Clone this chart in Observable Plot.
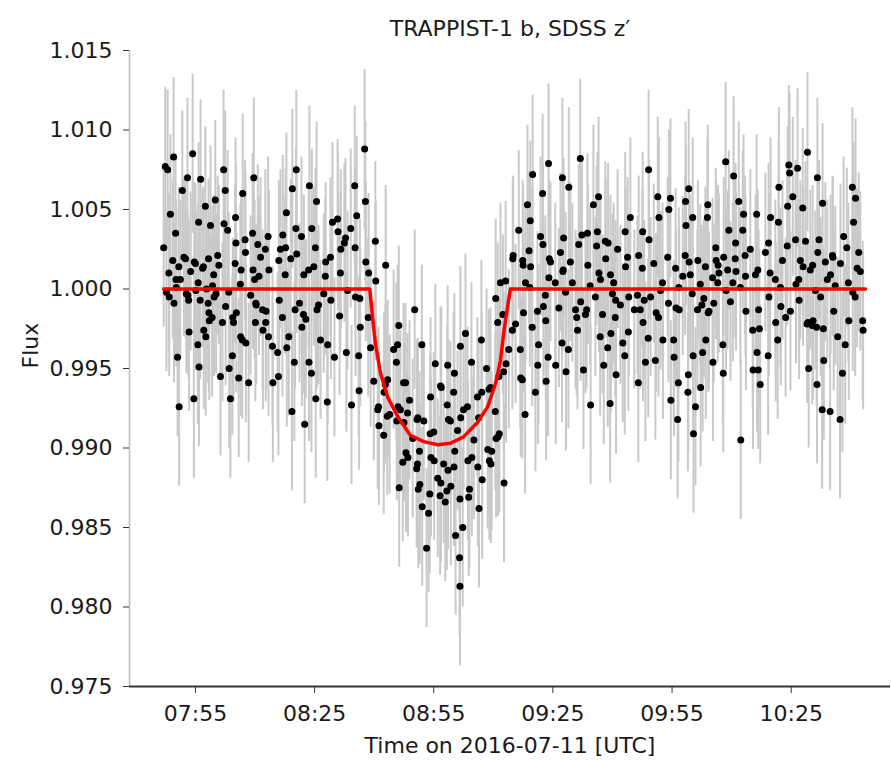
<!DOCTYPE html>
<html><head><meta charset="utf-8">
<script src="https://cdn.jsdelivr.net/npm/d3@7"></script>
<script src="https://cdn.jsdelivr.net/npm/@observablehq/plot@0.6"></script>
<style>body{margin:0;background:#fff}</style>
</head><body><div id="chart"></div>
<script>
// [time in minutes after 07:00 UTC, relative flux]
const obsEarly = [[47.0,1.0026],[47.4,1.0077],[47.7,0.9998],[48.0,1.0075],[48.3,1.0010],[48.4,0.9995],[48.7,1.0047],[49.3,1.0018],[49.5,1.0083],[49.6,0.9991],[50.0,1.0035],[50.2,1.0001],[50.5,0.9957],[50.8,1.0014],[50.9,0.9926],[51.2,1.0006],[51.7,1.0062],[52.5,1.0019],[52.7,0.9997],[53.0,1.0070],[53.3,0.9993],[53.4,0.9973],[53.8,1.0011],[54.3,1.0085],[54.6,0.9931],[55.0,1.0016],[55.1,0.9999],[55.6,0.9965],[55.8,1.0042],[55.7,1.0004],[55.9,0.9951],[56.3,1.0069],[56.8,1.0013],[57.1,0.9974],[57.5,1.0052],[57.6,0.9970],[57.8,1.0000],[58.3,1.0019],[58.4,0.9985],[58.2,0.9991],[58.5,0.9980],[58.8,1.0040],[59.3,1.0002],[59.6,1.0009],[59.7,0.9995],[60.0,1.0056],[60.9,1.0015],[61.3,0.9945],[62.1,1.0075],[62.2,1.0041],[62.5,1.0062],[62.6,0.9989],[63.4,0.9998],[63.5,0.9950],[63.8,0.9931],[64.4,0.9982],[64.3,0.9958],[64.6,0.9979],[65.1,1.0045],[65.2,1.0029],[65.0,1.0016],[65.9,0.9944],[66.3,1.0003],[66.4,0.9970],[66.9,1.0060],[66.8,0.9968],[67.6,1.0023],[67.7,0.9966],[68.4,0.9941],[68.9,0.9996],[69.4,1.0035],[69.5,1.0012],[69.7,1.0070],[69.9,1.0006],[70.1,0.9979],[70.2,0.9991],[71.0,1.0008],[71.4,1.0020],[71.9,0.9987],[72.0,0.9974],[72.6,1.0025],[72.7,0.9979],[73.5,1.0012],[73.4,0.9970],[74.4,0.9964],[74.5,0.9941],
[75.7,0.9960],[76.0,1.0018],[75.9,0.9945],[77.0,1.0034],[76.9,0.9982],[77.9,1.0048],[77.7,1.0026],[78.0,0.9963],[78.5,0.9970],[79.4,1.0063],[79.3,0.9923],[79.9,0.9954],[80.4,1.0075],[80.3,1.0038],[80.5,1.0022],[81.2,0.9991],[81.7,1.0033],[81.8,0.9976],[82.3,1.0009],[82.2,0.9984],[82.5,0.9915],[83.7,1.0065],[83.6,0.9954],[84.3,1.0038],[84.2,0.9947],[84.8,1.0014],[85.5,1.0055],[85.2,1.0026],[85.3,0.9931],[85.6,0.9987],[86.5,0.9968],[87.3,0.9997],[87.7,1.0008],[88.3,0.9965],[88.2,0.9929],[89.0,1.0020],[90.0,0.9957],[90.8,1.0044],[90.9,1.0036],[91.3,0.9983],[91.5,1.0010],[92.5,1.0029],[93.0,0.9960],[93.3,0.9999],[94.3,0.9927],[95.1,1.0065],[95.2,1.0026],[95.3,0.9995],[95.6,1.0046],[96.1,0.9958],[96.2,0.9936],[96.4,0.9994],[96.5,0.9976],[97.6,1.0088],[97.8,1.0055],[97.9,1.0017],[98.6,1.0010],[98.5,0.9982],
[52.1,1.0020],[54.7,1.0017],[57.0,1.0014],[60.6,1.0021],[53.1,0.9996],[56.2,0.9993],[60.2,0.9997],[59.2,0.9982],[61.8,0.9979],[65.3,0.9985],[70.3,0.9990],[72.8,0.9986],[76.1,0.9993],[80.1,0.9987],[82.8,0.9981],[86.0,0.9990],[89.1,0.9993],[63.1,1.0037],[67.5,1.0031],[70.7,1.0028],[73.3,1.0033],[76.4,1.0025],[79.0,1.0019],[89.5,1.0042],[92.8,1.0032],[94.1,1.0038],[91.6,1.0025],[87.8,1.0017],[83.5,1.0012],[77.6,1.0009],[66.5,1.0012],[50.1,1.0006]];

const obsTransit = [[99.1,0.9963],[100.3,1.0030],[99.9,0.9942],[100.4,1.0005],[100.9,0.9924],[101.1,0.9926],[101.2,0.9914],[102.9,1.0015],[102.4,0.9908],[102.5,0.9935],[102.8,0.9940],[103.4,0.9943],[103.3,0.9920],[103.9,0.9921],[104.9,0.9962],[105.6,0.9954],[105.7,0.9917],
[105.9,0.9965],[106.0,0.9926],[106.2,0.9977],[106.3,0.9875],[106.6,0.9924],[107.2,0.9891],[107.5,0.9916],[107.9,0.9941],[108.0,0.9897],[108.4,0.9922],[108.5,0.9894],[108.9,0.9930],[109.7,0.9906],[110.2,0.9987],[110.7,0.9887],[111.0,0.9919],[110.9,0.9890],[111.1,0.9874],[111.4,0.9898],[111.5,0.9877],[112.0,0.9965],[112.1,0.9863],[112.5,0.9917],[113.2,0.9837],[113.7,0.9859],[114.2,0.9932],[114.1,0.9909],[114.3,0.9894],[114.0,0.9871],[115.0,0.9910],[115.1,0.9892],[115.4,0.9953],[116.0,0.9881],[116.7,0.9939],[116.8,0.9878],[116.6,0.9870],[117.5,0.9890],[117.9,0.9866],[118.5,0.9952],[118.4,0.9927],[118.6,0.9886],[118.3,0.9873],[119.2,0.9917],[119.3,0.9876],[120.0,0.9935],[120.1,0.9888],[120.2,0.9947],[120.3,0.9898],[120.5,0.9845],[121.0,0.9911],[121.5,0.9831],[121.6,0.9813],[121.7,0.9964],[121.8,0.9919],[121.6,0.9868],[122.3,0.9850],[123.0,0.9972],[123.5,0.9926],[122.5,0.9924],[123.6,0.9892],[124.0,0.9874],[123.8,0.9869],[124.5,0.9954],[124.6,0.9894],[125.1,0.9905],[126.0,0.9932],[126.1,0.9888],[126.3,0.9919],[126.4,0.9862],[127.0,0.9968],[127.1,0.9935],[127.2,0.9880],[128.3,0.9950],[128.6,0.9899],[128.9,0.9937],[129.0,0.9892],[129.3,0.9938],[129.4,0.9890],[129.6,0.9898],[130.6,0.9994],[130.5,0.9923],[130.7,0.9906],[131.1,0.9979],[131.2,0.9907],[131.4,0.9945],[131.5,0.9909],[131.8,1.0004],[132.4,0.9984],[132.6,0.9948],[132.7,0.9878],[133.1,1.0005],[133.2,0.9953],[133.9,0.9962],[134.9,1.0019],[134.8,0.9974],[135.6,0.9978],
[107.4,0.9941],[110.8,0.9918],[116.9,0.9938],[118.7,0.9918]];

const obsLate = [[136.4,1.0037],[136.8,0.9962],[136.9,0.9944],[137.4,1.0018],[137.3,0.9943],[137.6,0.9985],[138.1,1.0004],[138.0,0.9921],[138.6,1.0053],[139.3,1.0043],[139.4,1.0014],[139.2,1.0001],[139.9,1.0072],[139.8,0.9976],[140.6,0.9935],[141.1,0.9986],[141.2,0.9952],[141.4,0.9965],[141.9,1.0033],[142.4,1.0060],[142.5,1.0028],[143.1,0.9996],[143.2,0.9980],[143.3,0.9942],[143.9,1.0079],[144.0,1.0007],[143.8,0.9957],[144.4,1.0017],[145.6,1.0004],[145.7,0.9952],[146.5,0.9988],[146.9,1.0023],[147.4,1.0070],[147.5,1.0011],[147.3,0.9966],[147.7,1.0032],[148.2,0.9998],[148.3,0.9948],[149.0,1.0064],[148.9,0.9962],[149.4,1.0017],[149.9,1.0004],[150.7,0.9987],[151.2,0.9974],[151.5,1.0028],[151.9,1.0082],[152.0,0.9992],[152.7,0.9949],[153.2,0.9984],[153.7,1.0035],[153.8,1.0015],[154.4,1.0002],[154.5,0.9927],[155.2,1.0053],[155.7,0.9995],[156.2,1.0036],[156.5,1.0058],[156.6,1.0010],[157.0,1.0006],[156.9,0.9970],[157.5,0.9984],[157.8,0.9952],[158.2,1.0030],[158.3,1.0019],[158.8,0.9963],[159.5,1.0009],[159.6,0.9972],[159.4,0.9928],[160.3,1.0004],[160.8,0.9993],[160.7,0.9982],[160.9,0.9946],[161.3,1.0025],[162.0,0.9990],[162.6,0.9966],[163.2,1.0036],[163.3,1.0014],[163.1,0.9958],[164.1,0.9995],[164.0,0.9973],[164.5,1.0045],
[166.3,0.9996],[166.6,1.0021],[166.5,0.9941],[167.0,0.9987],[167.6,1.0036],[167.5,1.0013],[167.7,0.9979],[168.3,0.9954],[169.1,1.0075],[169.2,1.0031],[169.0,0.9969],[169.6,0.9995],[170.4,1.0016],[170.8,0.9955],[171.4,1.0058],[171.7,1.0045],[171.6,0.9982],[172.1,0.9999],[172.6,1.0004],[172.7,0.9968],[173.9,1.0020],[174.2,1.0050],[174.1,0.9991],[174.6,1.0057],[174.7,0.9930],[175.4,0.9968],[175.5,0.9957],[175.9,1.0013],[176.4,0.9918],[176.7,1.0001],[176.8,0.9987],[176.6,0.9941],[177.7,1.0008],[178.4,1.0055],[178.5,1.0040],[178.3,1.0021],[179.0,0.9935],[179.2,1.0063],[179.3,1.0017],[179.1,0.9946],[179.6,1.0009],[180.2,1.0045],[180.1,0.9997],[180.3,0.9958],[180.4,0.9909],[180.9,0.9926],[181.4,0.9987],[182.1,1.0003],[182.2,0.9938],[182.7,0.9960],[183.0,0.9994],[183.4,1.0014],[183.5,0.9968],[184.0,1.0053],[183.9,1.0045],[184.1,0.9985],[185.2,1.0007],[185.3,0.9954],[185.5,0.9991],[186.0,1.0026],[186.5,1.0004],[186.8,1.0010],[187.8,0.9965],[187.9,0.9947],[188.0,1.0020],[188.5,1.0080],[188.6,0.9999],[189.3,1.0037],[189.7,0.9992],[190.3,1.0004],[190.5,1.0071],[191.0,1.0029],[191.1,1.0011],[191.8,1.0055],[192.2,1.0001],[192.3,0.9905],[192.8,1.0037],[193.0,1.0047],[193.5,1.0008],[193.6,0.9986],[194.7,1.0025],[195.3,0.9974],[195.4,0.9949],
[196.3,1.0047],[196.6,1.0012],[196.8,0.9987],[197.0,0.9975],[196.4,0.9960],[196.7,0.9949],[197.2,0.9940],[198.5,1.0023],[199.3,1.0029],[199.4,0.9995],[199.2,0.9958],[199.8,1.0045],[199.7,1.0010],[201.0,1.0006],[201.1,0.9979],[201.6,0.9968],[201.9,1.0064],[201.8,1.0042],[202.3,1.0001],[202.4,0.9989],[202.8,1.0018],[203.6,0.9982],[204.1,1.0052],[204.4,1.0078],[204.6,1.0073],[204.8,0.9986],[205.4,1.0058],[206.1,1.0031],[206.2,1.0003],[206.6,1.0076],[206.9,1.0006],[207.0,0.9993],[207.3,1.0018],[207.9,1.0051],[208.6,1.0030],[209.1,1.0086],[209.2,0.9979],[209.4,0.9950],[209.8,1.0012],[210.4,1.0015],[210.3,0.9977],[211.1,0.9999],[211.6,1.0070],[211.7,1.0023],[211.5,0.9940],[212.4,0.9995],[212.9,1.0054],[212.8,0.9924],[213.1,0.9975],[213.2,0.9955],[213.6,1.0017],[214.1,1.0006],[214.9,1.0009],[214.8,0.9923],[215.4,1.0021],[215.7,0.9986],[216.1,1.0002],[216.7,0.9970],[217.4,1.0016],[217.3,0.9918],[217.9,0.9947],[218.2,1.0033],[218.6,0.9965],[219.4,1.0004],[219.5,0.9980],[220.4,1.0064],[220.5,0.9998],[220.7,1.0042],[221.2,1.0057],[221.1,0.9995],[222.0,1.0023],[222.4,1.0011],[223.0,0.9980],[223.1,0.9974],
[135.0,1.0021],[137.5,1.0015],[139.0,1.0024],[144.1,1.0019],[147.6,1.0012],[152.3,1.0034],[156.0,1.0027],[158.9,1.0029],[163.8,1.0020],[160.0,0.9997],[165.5,0.9987],[142.6,0.9989],[151.0,0.9982],[153.5,0.9987],[186.1,1.0018],[189.0,1.0012],[193.4,1.0021],[196.0,1.0009],[204.0,1.0027],[208.0,1.0014],[212.0,1.0031],[215.5,1.0020],[219.0,1.0026],[221.6,1.0013],[209.0,0.9978],[210.5,0.9980],[211.4,0.9976],[182.5,0.9990],[184.3,0.9986],[181.5,1.0018],[186.6,1.0015],[190.9,1.0019],[168.0,0.9993],[171.0,0.9985],[176.0,0.9988]];

const fluxErr = 0.0050;

const modelCurve = [[47.0,1.0000],[98.9,1.0000],[99.6,0.9982],[100.3,0.9966],[101.6,0.9947],[103.4,0.9932],[105.9,0.9920],[109.1,0.9908],[112.5,0.9904],[116.0,0.9902],[119.2,0.9903],[122.5,0.9907],[126.0,0.9916],[128.6,0.9926],[130.6,0.9941],[131.8,0.9955],[132.6,0.9972],[133.6,0.9989],[134.3,1.0000],[223.7,1.0000]];

const xDomain = [38.4, 230.0];
const yTicks = [0.975, 0.980, 0.985, 0.990, 0.995, 1.000, 1.005, 1.010, 1.015];
const xTicks = [55, 85, 115, 145, 175, 205];
const xTickLabels = ["07:55", "08:25", "08:55", "09:25", "09:55", "10:25"];
const titleText = "TRAPPIST-1 b, SDSS z′";
const xLabelText = "Time on 2016-07-11 [UTC]";
const yLabelText = "Flux";

const obs = [...obsEarly, ...obsTransit, ...obsLate].map(([t, f]) => ({t, f, lo: f - fluxErr, hi: f + fluxErr}));
const model = modelCurve.map(([t, f]) => ({t, f}));
const font = "DejaVu Sans, sans-serif";
const fs = 22;

const chart = Plot.plot({
  width: 892,
  height: 760,
  marginLeft: 129,
  marginRight: 2,
  marginTop: 50,
  marginBottom: 74,
  style: {fontFamily: font, fontSize: fs + "px", background: "#fff", color: "#1a1a1a"},
  x: {domain: xDomain},
  y: {domain: [yTicks[0], yTicks[yTicks.length - 1]]},
  marks: [
    Plot.ruleX(obs, {x: "t", y1: "lo", y2: "hi", stroke: "#c9c9c9", strokeWidth: 2}),
    Plot.dot(obs, {x: "t", y: "f", r: 3.5, fill: "#000", stroke: "none"}),
    Plot.line(model, {x: "t", y: "f", stroke: "#ff0000", strokeWidth: 3.5}),
    Plot.ruleX([xDomain[0]], {y1: yTicks[0], y2: yTicks[yTicks.length - 1], stroke: "#bdbdbd", strokeWidth: 1.6}),
    Plot.ruleY([yTicks[0]], {stroke: "#333", strokeWidth: 1.8}),
    Plot.axisY({ticks: yTicks, tickFormat: d3.format(".3f"), tickSize: 6, tickPadding: 11, label: null, fontSize: fs, stroke: "#333"}),
    Plot.axisX({ticks: xTicks, tickFormat: (d, i) => xTickLabels[i], tickSize: 7, tickPadding: 12, label: null, fontSize: fs, stroke: "#333"}),
    Plot.text([titleText], {text: d => d, frameAnchor: "top", lineAnchor: "middle", dy: -22, fontSize: fs, fill: "#1a1a1a"}),
    Plot.text([xLabelText], {text: d => d, frameAnchor: "bottom", lineAnchor: "middle", dy: 59, fontSize: fs, fill: "#1a1a1a"}),
    Plot.text([yLabelText], {text: d => d, frameAnchor: "left", lineAnchor: "middle", dx: -99, rotate: -90, fontSize: fs, fill: "#1a1a1a"})
  ]
});
document.getElementById("chart").appendChild(chart);
</script>
</body></html>
